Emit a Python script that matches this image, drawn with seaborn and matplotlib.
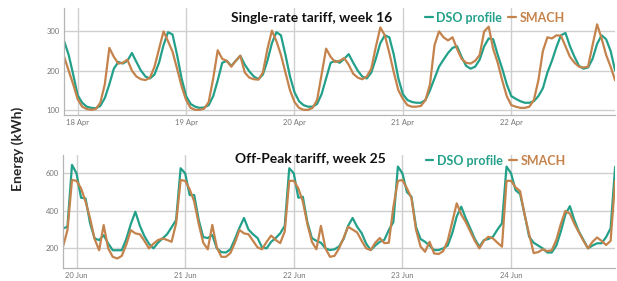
import pandas as pd
import matplotlib
matplotlib.use("Agg")
import matplotlib.pyplot as plt
import matplotlib.dates as mdates
import seaborn as sns

sns.set_style("white")
plt.rcParams["font.family"] = ["Lato", "DejaVu Sans"]

DSO_COLOR = "#23a08a"
SMACH_COLOR = "#c4834c"
GRID = "#cfcfcf"

# ---------------------------------------------------------
# DATA (hourly energy, kWh)
# ---------------------------------------------------------
series_names = ["DSO profile", "SMACH"]

# single-rate tariff, week 16: starts 17 Apr 21:00
top_start = "2016-04-17 21:00"
top_dso = [
    275, 240, 190,
    137, 118, 108, 105, 104, 110, 130, 165, 205, 222, 218, 225, 245, 222, 200, 185, 180, 190, 220, 265, 298, 292, 240, 180,
    135, 115, 108, 105, 106, 112, 135, 175, 220, 225, 212, 225, 238, 215, 198, 185, 178, 190, 225, 270, 298, 290, 240, 185,
    145, 122, 112, 108, 108, 115, 140, 180, 220, 225, 220, 230, 242, 220, 200, 185, 180, 195, 230, 270, 290, 285, 240, 180,
    140, 125, 120, 118, 118, 125, 150, 180, 210, 228, 245, 258, 262, 235, 212, 205, 210, 228, 262, 282, 280, 240, 205, 165,
    135, 128, 122, 118, 118, 122, 135, 155, 195, 225, 260, 290, 296, 262, 235, 212, 205, 208, 230, 268, 290, 280, 250, 200,
]
top_smach = [
    235, 200, 165,
    127, 108, 102, 100, 102, 118, 165, 258, 235, 218, 220, 228, 200, 185, 178, 176, 182, 210, 255, 300, 275, 248, 205, 160,
    125, 105, 100, 100, 103, 120, 180, 252, 230, 225, 210, 225, 238, 195, 182, 178, 177, 195, 255, 302, 275, 240, 195, 150,
    120, 105, 100, 100, 105, 125, 190, 256, 235, 222, 225, 232, 215, 192, 182, 178, 185, 205, 260, 310, 290, 245, 195, 150,
    128, 112, 108, 108, 110, 125, 165, 265, 300, 285, 277, 285, 255, 230, 220, 218, 225, 240, 300, 312, 255, 220, 175, 135,
    112, 108, 105, 105, 108, 125, 175, 250, 285, 282, 290, 289, 262, 235, 220, 210, 208, 210, 265, 318, 282, 240, 210, 175,
]
top_yticks = [100, 200, 300]

# off-peak tariff, week 25: starts 19 Jun 21:00
bot_start = "2016-06-19 21:00"
bot_dso = [
    306, 315, 645,
    600, 470, 466, 333, 253, 244, 270, 226, 190, 190, 190, 250, 330, 395, 320, 265, 225, 200, 230, 253, 275, 312, 351, 627,
    600, 484, 484, 351, 260, 255, 271, 200, 180, 178, 195, 250, 310, 362, 300, 275, 255, 205, 200, 235, 255, 280, 320, 627,
    600, 470, 475, 340, 255, 240, 230, 200, 191, 195, 210, 250, 320, 362, 315, 281, 225, 191, 215, 235, 245, 298, 340, 636,
    600, 500, 475, 315, 250, 235, 215, 191, 191, 200, 215, 280, 370, 422, 360, 306, 250, 209, 244, 250, 262, 300, 334, 636,
    600, 510, 490, 380, 262, 230, 215, 200, 178, 178, 215, 290, 380, 425, 350, 289, 245, 200, 215, 227, 227, 260, 307, 635,
]
bot_smach = [
    208, 297, 564,
    560, 520, 449, 360, 250, 190, 324, 200, 155, 146, 160, 220, 297, 280, 275, 240, 200, 225, 244, 253, 245, 235, 333, 564,
    560, 515, 450, 330, 230, 195, 325, 205, 155, 155, 175, 230, 298, 280, 275, 240, 205, 195, 235, 268, 245, 228, 290, 560,
    560, 520, 450, 330, 235, 195, 320, 200, 155, 160, 200, 255, 315, 300, 285, 240, 200, 191, 230, 255, 228, 230, 420, 560,
    564, 520, 468, 300, 210, 182, 235, 173, 170, 185, 240, 340, 440, 380, 340, 290, 240, 200, 240, 262, 253, 230, 209, 560,
    560, 525, 505, 380, 275, 175, 180, 195, 185, 190, 245, 330, 400, 385, 330, 285, 240, 200, 235, 258, 240, 218, 240, 560,
]
bot_yticks = [200, 400, 600]


def build_frame(start, dso, smach):
    times = pd.date_range(start, periods=len(dso), freq="h")
    return pd.concat([
        pd.DataFrame({"time": times, "energy": dso, "series": series_names[0]}),
        pd.DataFrame({"time": times, "energy": smach, "series": series_names[1]}),
    ], ignore_index=True)


def draw_panel(ax, df, ylim, yticks, title, title_xy, legend_xy):
    sns.lineplot(data=df, x="time", y="energy", hue="series", hue_order=series_names,
                 palette=[DSO_COLOR, SMACH_COLOR], linewidth=1.6, ax=ax)
    ax.set_xlim(df["time"].min(), df["time"].max())
    ax.set_ylim(*ylim)
    ax.set_yticks(yticks)
    ax.xaxis.set_major_locator(mdates.DayLocator())
    ax.xaxis.set_major_formatter(mdates.DateFormatter("%d %b"))
    ax.grid(True, color=GRID, lw=1.0)
    ax.set_axisbelow(True)
    for s in ["top", "right"]:
        ax.spines[s].set_visible(False)
    for s in ["left", "bottom"]:
        ax.spines[s].set_color("#b5b5b5")
        ax.spines[s].set_linewidth(0.9)
    ax.tick_params(labelsize=5.5, colors="#777777", length=0, pad=3)
    ax.set_xlabel("")
    ax.set_ylabel("")
    ax.text(*title_xy, title, transform=ax.transAxes, fontsize=10,
            fontweight="bold", ha="left", va="center", color="#111111")
    ax.legend(loc="center left", bbox_to_anchor=legend_xy, frameon=False, ncol=2,
              handlelength=0.6, handletextpad=0.3, columnspacing=0.5,
              borderaxespad=0, borderpad=0, labelcolor="linecolor",
              prop={"weight": "bold", "size": 9})


fig = plt.figure(figsize=(6.17, 2.81), dpi=100)
ax_top = fig.add_axes([0.104, 0.591, 0.893, 0.381])
ax_bot = fig.add_axes([0.102, 0.046, 0.895, 0.402])

draw_panel(ax_top, build_frame(top_start, top_dso, top_smach), (87, 360), top_yticks,
           "Single-rate tariff, week 16", (0.302, 0.907), (0.655, 0.907))
draw_panel(ax_bot, build_frame(bot_start, bot_dso, bot_smach), (95, 697), bot_yticks,
           "Off-Peak tariff, week 25", (0.312, 0.975), (0.657, 0.95))

fig.text(0.028, 0.47, "Energy (kWh)", rotation=90, fontsize=10, fontweight="bold",
         ha="center", va="center")

fig.savefig("out.png", dpi=100)
